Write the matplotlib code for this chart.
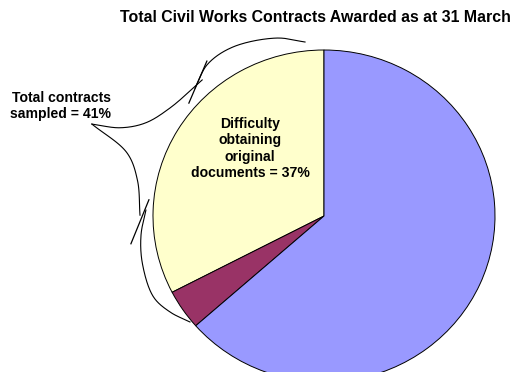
import numpy as np
import matplotlib
matplotlib.use("Agg")
import matplotlib.pyplot as plt

# ---- data ----
categories = ["Difficulty obtaining original documents", "Other sampled", "Not sampled"]
values = [32.6, 3.9, 63.5]
colors = ["#FFFFCC", "#993366", "#9999FF"]
title = "Total Civil Works Contracts Awarded as at 31 March"
slice_label = "Difficulty\nobtaining\noriginal\ndocuments = 37%"
brace_label = "Total contracts\nsampled = 41%"

W, H = 513, 372
fig = plt.figure(figsize=(W / 100, H / 100), dpi=100)
ax = fig.add_axes([0, 0, 1, 1])

# pie geometry in pixels (centre / radii) -> axis limits
cx, cy, rx, ry = 324, 216, 171, 166
ax.pie(values, colors=colors, startangle=90, counterclock=True,
       wedgeprops=dict(edgecolor="black", linewidth=0.7))
ax.set_aspect("auto")
ax.set_xlim((0 - cx) / rx, (W - cx) / rx)
ax.set_ylim((cy - H) / ry, (cy - 0) / ry)
ax.axis("off")

# ---- brace spanning the sampled slices ----
theta0 = 90.0
span = 360.0 * (values[0] + values[1]) / sum(values)

def polar(f, r):
    t = np.radians(theta0 + f * span)
    return r * np.cos(t), r * np.sin(t)

def to_px(p):
    return np.array([p[0] * rx, p[1] * ry])

def from_px(a):
    return a[:, 0] / rx, a[:, 1] / ry

def catmull(pts, n=40, alpha=0.5):
    # centripetal Catmull-Rom computed in pixel space
    P = np.array([to_px(p) for p in pts])
    P = np.vstack([P[0] * 2 - P[1], P, P[-1] * 2 - P[-2]])
    out = []
    for i in range(1, len(P) - 2):
        p0, p1, p2, p3 = P[i - 1], P[i], P[i + 1], P[i + 2]
        t0 = 0.0
        t1 = t0 + np.linalg.norm(p1 - p0) ** alpha
        t2 = t1 + np.linalg.norm(p2 - p1) ** alpha
        t3 = t2 + np.linalg.norm(p3 - p2) ** alpha
        for t in np.linspace(t1, t2, n, endpoint=False):
            a1 = (t1 - t) / (t1 - t0) * p0 + (t - t0) / (t1 - t0) * p1
            a2 = (t2 - t) / (t2 - t1) * p1 + (t - t1) / (t2 - t1) * p2
            a3 = (t3 - t) / (t3 - t2) * p2 + (t - t2) / (t3 - t2) * p3
            b1 = (t2 - t) / (t2 - t0) * a1 + (t - t0) / (t2 - t0) * a2
            b2 = (t3 - t) / (t3 - t1) * a2 + (t - t1) / (t3 - t1) * a3
            out.append((t2 - t) / (t2 - t1) * b1 + (t - t1) / (t2 - t1) * b2)
    out.append(P[-2])
    return from_px(np.array(out))

pieces = [
    [(0.046, 1.054), (0.110, 1.107), (0.210, 1.149), (0.279, 1.140), (0.338, 1.078)],
    [(0.312, 1.086), (0.412, 1.111), (0.470, 1.185), (0.502, 1.305), (0.516, 1.466)],
    [(0.516, 1.466), (0.546, 1.213), (0.600, 1.112), (0.683, 1.076)],
    [(0.670, 1.042), (0.731, 1.076), (0.800, 1.100), (0.883, 1.110), (0.934, 1.070), (0.983, 1.011)],
]
for pc in pieces:
    xs, ys = catmull([polar(f, r) for f, r in pc])
    ax.plot(xs, ys, color="black", lw=0.8, clip_on=False)

for f, r, hx, hy in [(0.323, 1.093, 9 / rx, 21 / ry), (0.699, 1.077, 9 / rx, 22 / ry)]:
    x0, y0 = polar(f, r)
    ax.plot([x0 + hx, x0 - hx], [y0 + hy, y0 - hy], color="black", lw=0.9)

# ---- texts ----
fig.text(315 / W, 1 - 18 / H, title, ha="center", va="center",
         fontsize=11.4, fontweight="bold", family="Liberation Sans")
fig.text(61 / W, 1 - 106 / H, brace_label, ha="center", va="center",
         fontsize=10.1, fontweight="bold", family="Liberation Sans", linespacing=1.15)
fig.text(250 / W, 1 - 148.5 / H, slice_label, ha="center", va="center",
         fontsize=10.1, fontweight="bold", family="Liberation Sans", linespacing=1.2)

fig.savefig("out.png", dpi=100)
